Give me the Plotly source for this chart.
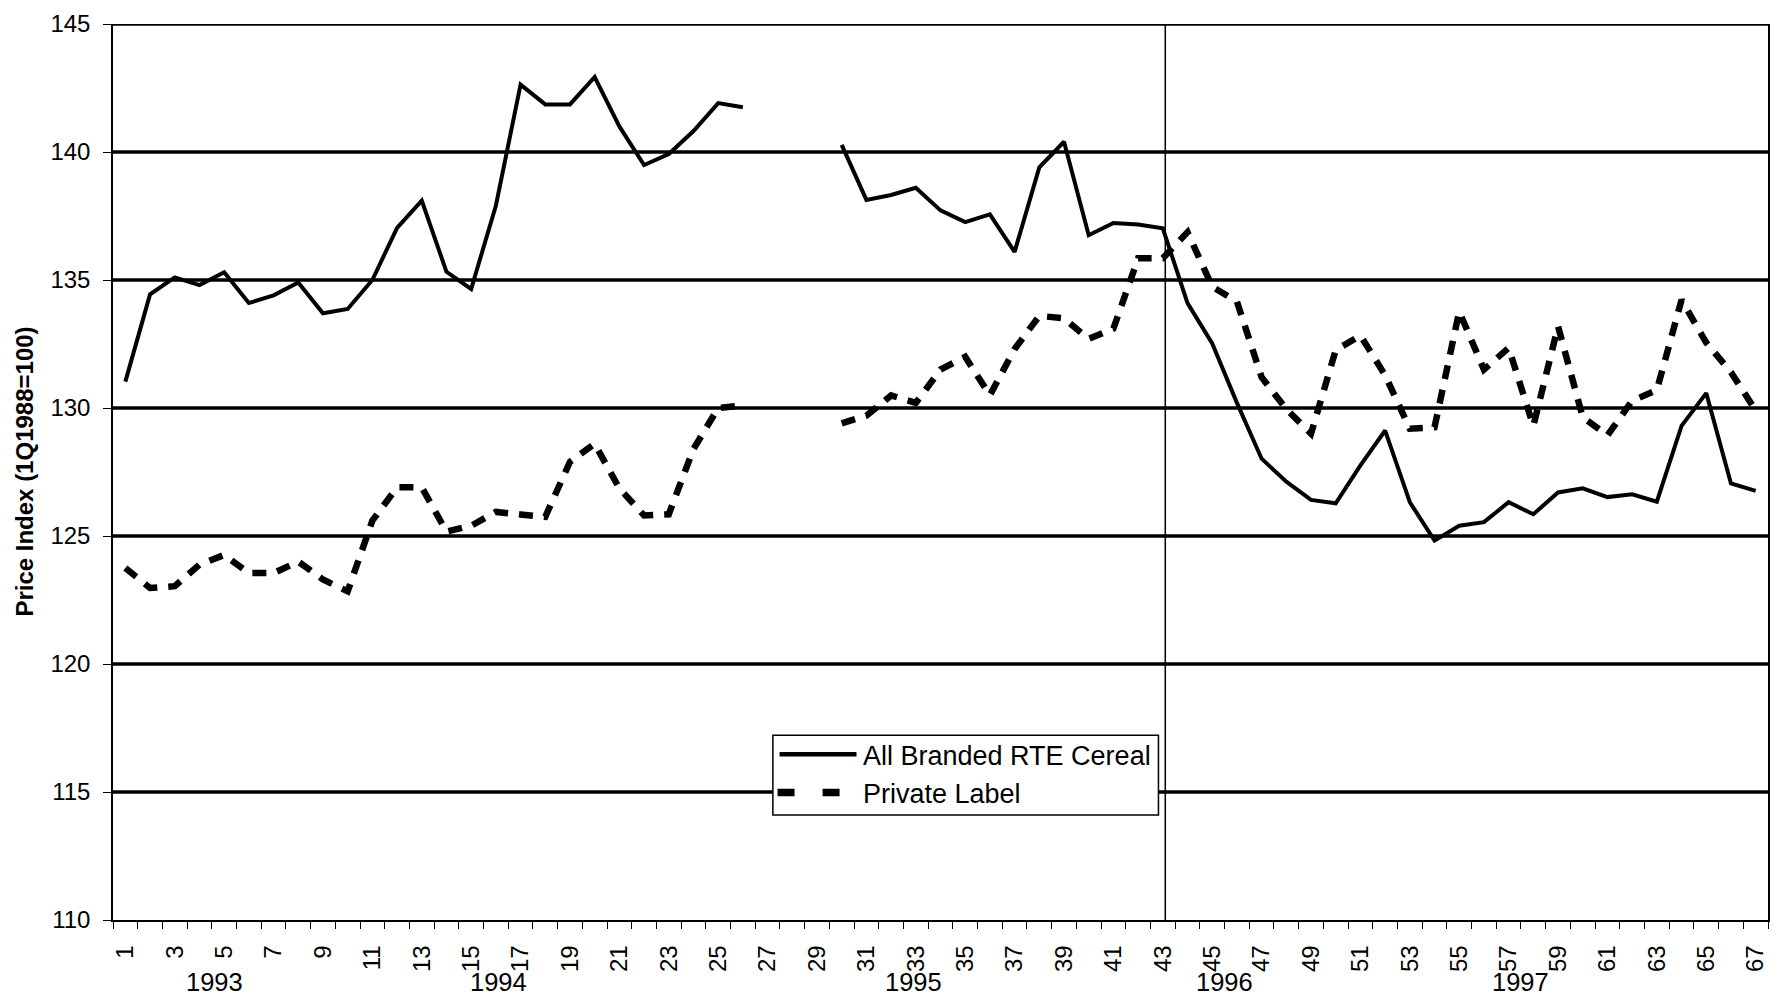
import plotly.graph_objects as go

# ---------------- data ----------------
periods = list(range(1, 68))
branded = [131.03, 134.44, 135.1, 134.8, 135.3, 134.1, 134.4, 134.9, 133.7, 133.87,
           135.0, 137.04, 138.1, 135.32, 134.65, 137.9, 142.63, 141.86, 141.86, 142.93,
           141.0, 139.49, 139.92, 140.82, 141.91, 141.75, None, None, None,
           140.28, 138.13, 138.32, 138.6, 137.72, 137.26, 137.56, 136.1, 139.4, 140.4,
           136.75, 137.23, 137.17, 137.02,
           134.1, 132.52, 130.2, 128.02, 127.12, 126.41, 126.28, 127.76, 129.12, 126.32,
           124.82, 125.4, 125.54, 126.32, 125.85, 126.7, 126.86, 126.52, 126.63, 126.34,
           129.3, 130.58, 127.05, 126.76]
private = [123.75, 122.97, 123.04, 123.88, 124.26, 123.55, 123.55, 124.0, 123.3, 122.84,
           125.6, 126.9, 126.9, 125.17, 125.4, 125.94, 125.84, 125.75, 127.9, 128.6,
           126.86, 125.8, 125.85, 128.4, 130.0, 130.1, None, None, None,
           129.4, 129.7, 130.49, 130.2, 131.5, 132.0, 130.5, 132.3, 133.6, 133.5,
           132.7, 133.1, 135.85, 135.85,
           136.87, 134.74, 134.16, 131.2, 129.96, 129.0, 132.26, 132.83, 131.28, 129.19,
           129.25, 133.77, 131.5, 132.35, 129.3, 133.19, 129.64, 128.93, 130.28, 130.7,
           134.22, 132.55, 131.4, 129.9]
series_names = ["All Branded RTE Cereal", "Private Label"]
y_ticks = [110, 115, 120, 125, 130, 135, 140, 145]
x_tick_labels = [str(i) for i in range(1, 68, 2)]
years = ["1993", "1994", "1995", "1996", "1997"]
year_pos = [4.6, 16.1, 32.9, 45.5, 57.5]
divider_x = 43.1
y_title = "Price Index (1Q1988=100)"

FONT = "Liberation Sans, Arial, sans-serif"
W, H = 1780, 995
L, R, T, B = 112.7, 10.5, 19, 75
PW, PH = W - L - R, H - T - B


def px(x):
    return (x - L) / PW


def py(y):
    return (H - B - y) / PH


fig = go.Figure()
fig.add_trace(go.Scatter(x=periods, y=branded, mode="lines", name=series_names[0],
                         line=dict(color="black", width=4), connectgaps=False,
                         showlegend=False))
fig.add_trace(go.Scatter(x=periods, y=private, mode="lines", name=series_names[1],
                         line=dict(color="black", width=6.5, dash="14px,11px"),
                         connectgaps=False, showlegend=False))

shapes = []
for v in y_ticks[1:]:
    shapes.append(dict(type="line", xref="paper", yref="y", x0=0, x1=1, y0=v, y1=v,
                       line=dict(color="black", width=3.5), layer="below"))
shapes.append(dict(type="line", xref="x", yref="paper", x0=divider_x, x1=divider_x,
                   y0=0, y1=1, line=dict(color="black", width=1.5), layer="below"))

# custom legend
lx0, lx1, ly0, ly1 = 773.3, 1159.3, 734.3, 814.3
shapes.append(dict(type="rect", xref="paper", yref="paper", x0=px(lx0), x1=px(lx1),
                   y0=py(ly1), y1=py(ly0), fillcolor="white",
                   line=dict(color="black", width=1.5), layer="above"))
shapes.append(dict(type="line", xref="paper", yref="paper", x0=px(780), x1=px(857),
                   y0=py(753.3), y1=py(753.3), line=dict(color="black", width=4.5),
                   layer="above"))
shapes.append(dict(type="line", xref="paper", yref="paper", x0=px(778), x1=px(857),
                   y0=py(791.7), y1=py(791.7),
                   line=dict(color="black", width=7.5, dash="17px,28px"), layer="above"))

annotations = []
for name, yy in zip(series_names, [755, 793]):
    annotations.append(dict(text=name, xref="paper", yref="paper", x=px(862), y=py(yy),
                            xanchor="left", yanchor="middle", showarrow=False,
                            font=dict(family=FONT, size=27, color="black")))
for yr, xp in zip(years, year_pos):
    annotations.append(dict(text=yr, xref="x", yref="paper", x=xp, y=0, yshift=-61.5,
                            xanchor="center", yanchor="middle", showarrow=False,
                            font=dict(family=FONT, size=25.5, color="black")))
annotations.append(dict(text="<b>" + y_title + "</b>", xref="paper", yref="paper",
                        x=0, y=0.5, xshift=23.3 - L, xanchor="center", yanchor="middle",
                        textangle=-90, showarrow=False,
                        font=dict(family=FONT, size=24, color="black")))

fig.update_layout(
    width=W, height=H,
    margin=dict(l=L, r=R, t=T, b=B, pad=0),
    paper_bgcolor="white", plot_bgcolor="white",
    font=dict(family=FONT, color="black"),
    showlegend=False,
    shapes=shapes, annotations=annotations,
    xaxis=dict(range=[0.5, 67.5], tickmode="array",
               tickvals=list(range(1, 68, 2)), ticktext=x_tick_labels,
               tickangle=-90, ticks="", ticklabelstandoff=14,
               tickfont=dict(family=FONT, size=24, color="black"),
               showgrid=False, zeroline=False,
               showline=True, linecolor="black", linewidth=1.5,
               minor=dict(ticks="outside", ticklen=7, tickwidth=1.2, tickcolor="black",
                          tickmode="array", tickvals=[i + 0.5 for i in range(0, 68)],
                          showgrid=False)),
    yaxis=dict(range=[110, 145], tickmode="array", tickvals=y_ticks,
               ticks="outside", ticklen=8, tickwidth=1.2, tickcolor="black",
               ticklabelstandoff=8,
               tickfont=dict(family=FONT, size=24, color="black"),
               showgrid=False, zeroline=False,
               showline=True, linecolor="black", linewidth=1.5, mirror=True),
)

fig.write_html("out.html")
